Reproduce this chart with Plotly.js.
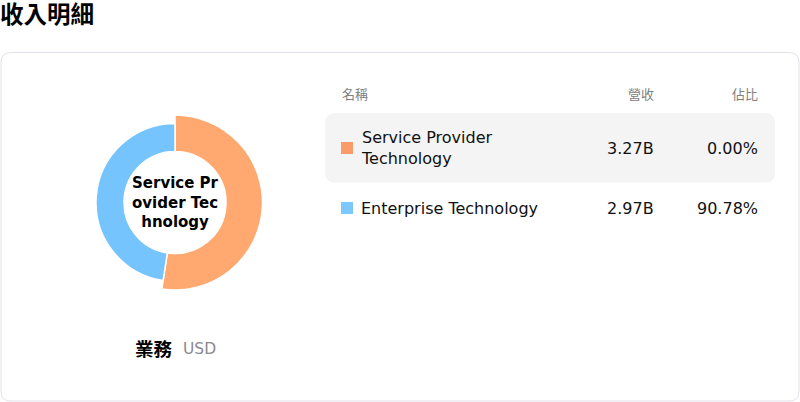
<!DOCTYPE html>
<html>
<head>
<meta charset="utf-8">
<script src="https://cdn.plot.ly/plotly-3.0.1.min.js"></script>
<style>
  html, body { margin: 0; padding: 0; background: #fff; }
  #chart { width: 800px; height: 402px; }
</style>
</head>
<body>
<div id="chart"></div>
<script>
// revenue split by business segment (USD)
var segments = ['Service Provider Technology', 'Enterprise Technology'];
var segmentLines = [['Service Provider', 'Technology'], ['Enterprise Technology']];
var revenue = [3.27, 2.97];
var revenueLabels = ['3.27B', '2.97B'];
var shareLabels = ['0.00%', '90.78%'];
var centerLines = ['Service Pr', 'ovider Tec', 'hnology'];
var headers = ['名稱', '營收', '佔比'];

var sliceColors = ['#FFA970', '#76C4FE'];
var swatchColors = ['#F99C6A', '#7CC7FD'];

var W = 800, H = 402;
var FONT = 'DejaVu Sans, Noto Sans CJK TC, sans-serif';

function px(x) { return x / W; }
function py(y) { return 1 - y / H; }

function roundRect(x0, y0, x1, y1, r) {
  var p = function (x, y) { return px(x) + ',' + py(y); };
  return 'M' + p(x0 + r, y0) + ' L' + p(x1 - r, y0) + ' Q' + p(x1, y0) + ' ' + p(x1, y0 + r) +
    ' L' + p(x1, y1 - r) + ' Q' + p(x1, y1) + ' ' + p(x1 - r, y1) +
    ' L' + p(x0 + r, y1) + ' Q' + p(x0, y1) + ' ' + p(x0, y1 - r) +
    ' L' + p(x0, y0 + r) + ' Q' + p(x0, y0) + ' ' + p(x0 + r, y0) + ' Z';
}

// donut: the first slice is drawn a bit larger (highlighted)
var cx = 175, cy = 202.5, holeR = 51;
var rBig = 87.5, rSmall = 79;

function domainFor(r) {
  return { x: [px(cx - r), px(cx + r)], y: [py(cy + r), py(cy - r)] };
}

var traceBig = {
  type: 'pie', labels: segments, values: revenue, sort: false,
  direction: 'clockwise', rotation: 0, hole: holeR / rBig,
  domain: domainFor(rBig), textinfo: 'none', hoverinfo: 'skip',
  marker: { colors: [sliceColors[0], 'rgba(0,0,0,0)'], line: { color: '#fff', width: [1.5, 0] } }
};
var traceSmall = {
  type: 'pie', labels: segments, values: revenue, sort: false,
  direction: 'clockwise', rotation: 0, hole: holeR / rSmall,
  domain: domainFor(rSmall), textinfo: 'none', hoverinfo: 'skip',
  marker: { colors: ['rgba(0,0,0,0)', sliceColors[1]], line: { color: '#fff', width: [0, 1.5] } }
};

function ann(text, x, y, size, color, xanchor, weight) {
  return {
    text: text, xref: 'paper', yref: 'paper', x: px(x), y: py(y),
    xanchor: xanchor || 'left', align: xanchor || 'left', yanchor: 'middle', showarrow: false,
    borderpad: 0, font: { family: FONT, size: size, color: color, weight: weight || 'normal' }
  };
}

var annotations = [];
var shapes = [];

// page title and card
annotations.push(ann('收入明細', -1, 15, 23.5, '#000', 'left', 'bold'));
shapes.push({ type: 'path', xref: 'paper', yref: 'paper', path: roundRect(1, 52.5, 799, 401, 10),
  line: { color: '#E3E0EA', width: 1 }, fillcolor: '#fff', layer: 'below' });

// donut centre label, wrapped inside the hole
annotations.push(ann(centerLines.join('<br>'), cx, 202, 15, '#000', 'center', 'bold'));

// caption under the donut
annotations.push(ann('業務', 134, 349, 18.5, '#000', 'left', 'bold'));
annotations.push(ann('USD', 182, 349, 15.5, '#8a8a8a', 'left'));

// table header
annotations.push(ann(headers[0], 341, 95, 13, '#7f7f7f', 'left'));
annotations.push(ann(headers[1], 655, 95, 13, '#7f7f7f', 'right'));
annotations.push(ann(headers[2], 759, 95, 13, '#7f7f7f', 'right'));

// table rows
var rowCenters = [148, 208];
shapes.push({ type: 'path', xref: 'paper', yref: 'paper', path: roundRect(325, 113, 775, 182.5, 10),
  line: { width: 0 }, fillcolor: '#F4F4F4', layer: 'below' });

segments.forEach(function (s, i) {
  var yc = rowCenters[i];
  shapes.push({ type: 'rect', xref: 'paper', yref: 'paper',
    x0: px(341), x1: px(353), y0: py(yc + 6), y1: py(yc - 6),
    line: { width: 0 }, fillcolor: swatchColors[i] });
  annotations.push(ann(segmentLines[i].join('<br>'), 360, yc, 16, '#111', 'left'));
  annotations.push(ann(revenueLabels[i], 655, yc, 16, '#111', 'right'));
  annotations.push(ann(shareLabels[i], 759, yc, 16, '#111', 'right'));
});

var layout = {
  width: W, height: H,
  margin: { l: 0, r: 0, t: 0, b: 0 },
  paper_bgcolor: '#fff',
  showlegend: false,
  font: { family: FONT },
  shapes: shapes,
  annotations: annotations
};

Plotly.newPlot('chart', [traceBig, traceSmall], layout, { displayModeBar: false, staticPlot: true });
</script>
</body>
</html>
